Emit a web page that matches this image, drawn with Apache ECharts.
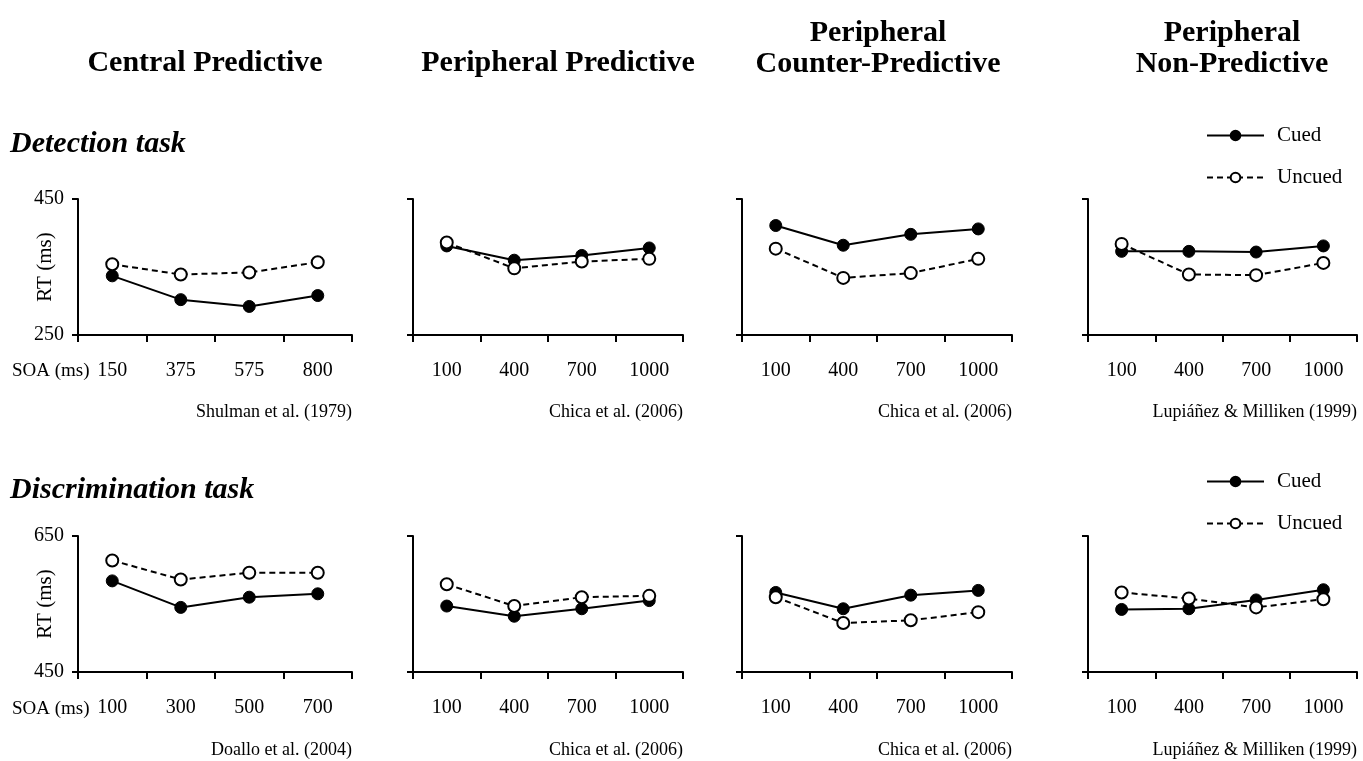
<!DOCTYPE html>
<html><head><meta charset="utf-8">
<script src="https://cdn.jsdelivr.net/npm/echarts@6/dist/echarts.min.js"></script>
<style>html,body{margin:0;padding:0;background:#fff}#c{width:1363px;height:761px}</style>
</head><body><div id="c"></div>
<script>
// ---- data ----
const columnTitles = ['Central Predictive', 'Peripheral Predictive', 'Peripheral\nCounter-Predictive', 'Peripheral\nNon-Predictive'];
const rowTitles = ['Detection task', 'Discrimination task'];
const detCatsCentral = ['150', '375', '575', '800'];
const discCatsCentral = ['100', '300', '500', '700'];
const catsPeripheral = ['100', '400', '700', '1000'];
const detYRange = [250, 450];
const discYRange = [450, 650];
const detCitations = ['Shulman et al. (1979)', 'Chica et al. (2006)', 'Chica et al. (2006)', 'Lupiáñez & Milliken (1999)'];
const discCitations = ['Doallo et al. (2004)', 'Chica et al. (2006)', 'Chica et al. (2006)', 'Lupiáñez & Milliken (1999)'];

const detCentralCued = [337, 302, 292, 308];
const detCentralUncued = [354, 339, 342, 357];
const detPPCued = [381, 360, 367, 378];
const detPPUncued = [386, 348, 358, 362];
const detPCPCued = [411, 382, 398, 406];
const detPCPUncued = [377, 334, 341, 362];
const detPNPCued = [373, 373, 372, 381];
const detPNPUncued = [384, 339, 338, 356];

const discCentralCued = [584, 545, 560, 565];
const discCentralUncued = [614, 586, 596, 596];
const discPPCued = [547, 532, 543, 555];
const discPPUncued = [579, 547, 560, 562];
const discPCPCued = [567, 543, 563, 570];
const discPCPUncued = [560, 522, 526, 538];
const discPNPCued = [542, 543, 556, 571];
const discPNPUncued = [567, 558, 545, 557];

// ---- layout ----
const SERIF = '"Liberation Serif", "Times New Roman", serif';
const colX = [[78, 352], [413, 683], [742, 1012], [1088, 1357]];
const rowY = [[199, 335], [536, 672]];
const titleCenters = [205, 558, 878, 1232];

const panels = [
  {r: 0, c: 0, cats: detCatsCentral, cued: detCentralCued, uncued: detCentralUncued, yr: detYRange},
  {r: 0, c: 1, cats: catsPeripheral, cued: detPPCued, uncued: detPPUncued, yr: detYRange},
  {r: 0, c: 2, cats: catsPeripheral, cued: detPCPCued, uncued: detPCPUncued, yr: detYRange},
  {r: 0, c: 3, cats: catsPeripheral, cued: detPNPCued, uncued: detPNPUncued, yr: detYRange},
  {r: 1, c: 0, cats: discCatsCentral, cued: discCentralCued, uncued: discCentralUncued, yr: discYRange},
  {r: 1, c: 1, cats: catsPeripheral, cued: discPPCued, uncued: discPPUncued, yr: discYRange},
  {r: 1, c: 2, cats: catsPeripheral, cued: discPCPCued, uncued: discPCPUncued, yr: discYRange},
  {r: 1, c: 3, cats: catsPeripheral, cued: discPNPCued, uncued: discPNPUncued, yr: discYRange}
];

const grid = [], xAxis = [], yAxis = [], series = [];
panels.forEach((p, i) => {
  const [x0, x1] = colX[p.c], [y0, y1] = rowY[p.r];
  grid.push({left: x0, top: y0, width: x1 - x0, height: y1 - y0, containLabel: false});
  xAxis.push({
    type: 'category', gridIndex: i, data: p.cats, boundaryGap: true,
    axisLine: {lineStyle: {color: '#000', width: 2}},
    axisTick: {show: true, length: 7, lineStyle: {color: '#000', width: 2}},
    axisLabel: {color: '#000', fontFamily: SERIF, fontSize: 20, margin: 26},
    splitLine: {show: false}
  });
  yAxis.push({
    type: 'value', gridIndex: i, min: p.yr[0], max: p.yr[1],
    name: p.c === 0 ? 'RT (ms)' : '', nameLocation: 'middle', nameGap: 22, nameRotate: 90,
    nameMoveOverlap: false,
    nameTextStyle: {color: '#000', fontFamily: SERIF, fontSize: 21},
    axisLine: {show: true, lineStyle: {color: '#000', width: 2}},
    axisTick: {show: true, length: 6, customValues: p.yr, lineStyle: {color: '#000', width: 2}},
    axisLabel: {show: p.c === 0, customValues: p.yr, color: '#000', fontFamily: SERIF, fontSize: 20, margin: 14},
    splitLine: {show: false}
  });
  series.push({
    name: 'Uncued', type: 'line', xAxisIndex: i, yAxisIndex: i, data: p.uncued,
    symbol: 'circle', symbolSize: 12,
    lineStyle: {color: '#000', width: 2, type: [6, 4]},
    itemStyle: {color: '#fff', borderColor: '#000', borderWidth: 2},
    z: 3, animation: false
  });
  series.push({
    name: 'Cued', type: 'line', xAxisIndex: i, yAxisIndex: i, data: p.cued,
    symbol: 'circle', symbolSize: 12,
    lineStyle: {color: '#000', width: 2, type: 'solid'},
    itemStyle: {color: '#000', borderColor: '#000', borderWidth: 1},
    z: 2, animation: false
  });
});

const legendBase = {
  orient: 'vertical', left: 1201, itemWidth: 57, itemHeight: 12, itemGap: 21,
  data: ['Cued', 'Uncued'], selectedMode: false,
  textStyle: {color: '#000', fontFamily: SERIF, fontSize: 21, padding: [0, 0, 0, 8]}
};

const graphic = [];
columnTitles.forEach((t, c) => {
  graphic.push({type: 'text', x: titleCenters[c], y: t.includes('\n') ? 18 : 48,
    style: {text: t, fontFamily: SERIF, fontWeight: 'bold', fontSize: 30, fill: '#000', textAlign: 'center', lineHeight: 31}});
});
rowTitles.forEach((t, r) => {
  graphic.push({type: 'text', x: 10, y: [129, 475][r],
    style: {text: t, fontFamily: SERIF, fontWeight: 'bold', fontStyle: 'italic', fontSize: 30, fill: '#000'}});
});
[detCitations, discCitations].forEach((arr, r) => {
  arr.forEach((t, c) => {
    graphic.push({type: 'text', x: colX[c][1], y: [403, 741][r],
      style: {text: t, fontFamily: SERIF, fontSize: 18, fill: '#000', textAlign: 'right'}});
  });
});
[0, 1].forEach(r => {
  graphic.push({type: 'text', x: 12, y: [362, 700][r],
    style: {text: 'SOA (ms)', fontFamily: SERIF, fontSize: 19, fill: '#000'}});
});

const chart = echarts.init(document.getElementById('c'), null, {renderer: 'canvas'});
chart.setOption({
  backgroundColor: '#fff',
  animation: false,
  grid, xAxis, yAxis, series,
  legend: [
    Object.assign({}, legendBase, {top: 120}),
    Object.assign({}, legendBase, {top: 466})
  ],
  graphic
});
</script></body></html>
